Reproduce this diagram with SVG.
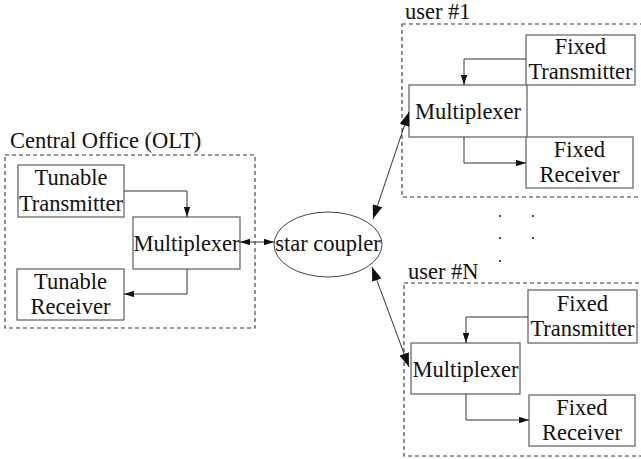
<svg xmlns="http://www.w3.org/2000/svg" width="641" height="459" viewBox="0 0 641 459">
  <style>
    text { font-family: "Liberation Serif", "Times New Roman", serif; font-size: 22.5px; fill: #111; }
    .mid { text-anchor: middle; }
    .box { fill: #fff; stroke: #6a6a6a; stroke-width: 1.3; }
    .group { fill: none; stroke: #333; stroke-width: 1.1; stroke-dasharray: 4 3; }
    .wire { fill: none; stroke: #333; stroke-width: 1; }
    .dot { fill: #111; }
  </style>
  <defs>
    <marker id="headS" markerUnits="userSpaceOnUse" markerWidth="11" markerHeight="7" refX="10" refY="3.2" orient="auto-start-reverse">
      <path d="M0,0 L10,3.2 L0,6.4 z" fill="#111"/>
    </marker>
    <marker id="headL" markerUnits="userSpaceOnUse" markerWidth="15" markerHeight="10" refX="14" refY="5" orient="auto-start-reverse">
      <path d="M0,0 L14,5 L0,10 z" fill="#111"/>
    </marker>
  </defs>

  <!-- Central Office -->
  <g id="central-office">
    <rect class="group" x="5" y="155" width="250" height="173"/>
    <text x="10" y="148">Central Office (OLT)</text>
  </g>
  <g id="co-tunable-transmitter">
    <rect class="box" x="18" y="165" width="106" height="52"/>
    <text class="mid" x="71" y="185">Tunable</text>
    <text class="mid" x="71" y="211">Transmitter</text>
  </g>
  <g id="co-multiplexer">
    <rect class="box" x="133" y="217" width="107" height="52"/>
    <text class="mid" x="186.5" y="251">Multiplexer</text>
  </g>
  <g id="co-tunable-receiver">
    <rect class="box" x="17" y="269" width="107" height="51"/>
    <text class="mid" x="70.5" y="289">Tunable</text>
    <text class="mid" x="70.5" y="314">Receiver</text>
  </g>

  <!-- Star coupler -->
  <g id="star-coupler">
    <ellipse cx="328" cy="244.5" rx="54" ry="32.5" fill="#fff" stroke="#444" stroke-width="1"/>
    <text class="mid" x="328" y="251">star coupler</text>
  </g>

  <!-- User #1 -->
  <g id="user-1">
    <rect class="group" x="402" y="24" width="245" height="173"/>
    <text x="405" y="19">user #1</text>
  </g>
  <g id="u1-fixed-transmitter">
    <rect class="box" x="526" y="35" width="109" height="50"/>
    <text class="mid" x="580.5" y="54">Fixed</text>
    <text class="mid" x="580.5" y="79">Transmitter</text>
  </g>
  <g id="u1-multiplexer">
    <rect class="box" x="409" y="85" width="118" height="52"/>
    <text class="mid" x="468" y="119">Multiplexer</text>
  </g>
  <g id="u1-fixed-receiver">
    <rect class="box" x="526" y="137" width="107" height="51"/>
    <text class="mid" x="579.5" y="157">Fixed</text>
    <text class="mid" x="579.5" y="182">Receiver</text>
  </g>

  <!-- User #N -->
  <g id="user-n">
    <rect class="group" x="404" y="283" width="243" height="173"/>
    <text x="408" y="279">user #N</text>
  </g>
  <g id="un-fixed-transmitter">
    <rect class="box" x="528" y="290" width="109" height="53"/>
    <text class="mid" x="582.5" y="311">Fixed</text>
    <text class="mid" x="582.5" y="336">Transmitter</text>
  </g>
  <g id="un-multiplexer">
    <rect class="box" x="411" y="343" width="109" height="51"/>
    <text class="mid" x="465.5" y="377">Multiplexer</text>
  </g>
  <g id="un-fixed-receiver">
    <rect class="box" x="529" y="395" width="106" height="51"/>
    <text class="mid" x="582" y="415">Fixed</text>
    <text class="mid" x="582" y="440">Receiver</text>
  </g>

  <!-- ellipsis between users -->
  <g id="ellipsis">
    <circle class="dot" cx="500" cy="216" r="1"/>
    <circle class="dot" cx="533" cy="216" r="1"/>
    <circle class="dot" cx="500" cy="238" r="1"/>
    <circle class="dot" cx="533" cy="238" r="1"/>
    <circle class="dot" cx="500" cy="261" r="1"/>
  </g>

  <!-- Connectors -->
  <g id="connectors">
    <polyline class="wire" points="124,191 187,191 187,217" marker-end="url(#headS)"/>
    <polyline class="wire" points="187,269 187,294 124,294" marker-end="url(#headS)"/>
    <line class="wire" x1="240" y1="242" x2="274" y2="242" marker-start="url(#headS)" marker-end="url(#headS)"/>

    <polyline class="wire" points="526,59 464,59 464,85" marker-end="url(#headS)"/>
    <polyline class="wire" points="464,137 464,163 526,163" marker-end="url(#headS)"/>

    <polyline class="wire" points="528,317 466,317 466,343" marker-end="url(#headS)"/>
    <polyline class="wire" points="466,394 466,420 529,420" marker-end="url(#headS)"/>

    <line class="wire" x1="373" y1="219" x2="409" y2="112" marker-start="url(#headL)" marker-end="url(#headL)"/>
    <line class="wire" x1="372" y1="267" x2="409" y2="367" marker-start="url(#headL)" marker-end="url(#headL)"/>
  </g>
</svg>
